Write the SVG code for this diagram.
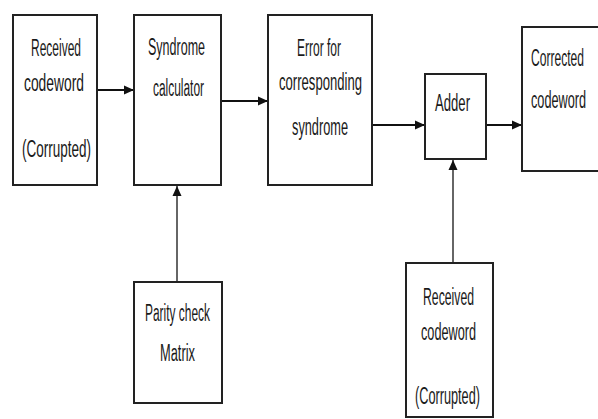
<svg xmlns="http://www.w3.org/2000/svg" width="598" height="419" viewBox="0 0 598 419">
  <defs>
    <marker id="arrow" markerUnits="userSpaceOnUse" markerWidth="10" markerHeight="10" viewBox="0 0 10 10" refX="10" refY="5" orient="auto">
      <path d="M0,0.5 L10,5 L0,9.5 Z" fill="#111"/>
    </marker>
    <style>
      .box { fill: #fff; stroke: #222; stroke-width: 2; }
      .lbl { font-family: "Liberation Sans", Arial, sans-serif; font-size: 23px; fill: #1a1a1a; }
      .wire { stroke: #111; stroke-width: 2; fill: none; }
      .vwire { stroke: #333; stroke-width: 1.5; fill: none; }
    </style>
  </defs>
  <rect width="598" height="419" fill="#fff"/>

  <!-- connectors -->
  <g id="connectors">
    <line class="wire" x1="97" y1="90" x2="134" y2="90" marker-end="url(#arrow)"/>
    <line class="wire" x1="221" y1="101" x2="268" y2="101" marker-end="url(#arrow)"/>
    <line class="wire" x1="372" y1="125" x2="425" y2="125" marker-end="url(#arrow)"/>
    <line class="wire" x1="486" y1="125" x2="522" y2="125" marker-end="url(#arrow)"/>
    <line class="vwire" x1="177" y1="282" x2="177" y2="186" marker-end="url(#arrow)"/>
    <line class="vwire" x1="453" y1="263" x2="453" y2="160" marker-end="url(#arrow)"/>
  </g>

  <g id="received-codeword">
    <rect class="box" x="13" y="15" width="84" height="170"/>
    <text class="lbl" x="31" y="56" textLength="50" lengthAdjust="spacingAndGlyphs">Received</text>
    <text class="lbl" x="24" y="91" textLength="60" lengthAdjust="spacingAndGlyphs">codeword</text>
    <text class="lbl" x="22" y="157" textLength="69" lengthAdjust="spacingAndGlyphs">(Corrupted)</text>
  </g>

  <g id="syndrome-calculator">
    <rect class="box" x="134" y="15" width="87" height="170"/>
    <text class="lbl" x="148" y="55" textLength="57" lengthAdjust="spacingAndGlyphs">Syndrome</text>
    <text class="lbl" x="153" y="96" textLength="51" lengthAdjust="spacingAndGlyphs">calculator</text>
  </g>

  <g id="error-pattern">
    <rect class="box" x="268" y="15" width="104" height="170"/>
    <text class="lbl" x="297" y="56" textLength="44" lengthAdjust="spacingAndGlyphs">Error for</text>
    <text class="lbl" x="279" y="90" textLength="83" lengthAdjust="spacingAndGlyphs">corresponding</text>
    <text class="lbl" x="292" y="135" textLength="56" lengthAdjust="spacingAndGlyphs">syndrome</text>
  </g>

  <g id="adder">
    <rect class="box" x="425" y="74" width="61" height="85"/>
    <text class="lbl" x="435" y="111" textLength="35" lengthAdjust="spacingAndGlyphs">Adder</text>
  </g>

  <g id="corrected-codeword">
    <rect class="box" x="522" y="27" width="80" height="144"/>
    <text class="lbl" x="531" y="66" textLength="53" lengthAdjust="spacingAndGlyphs">Corrected</text>
    <text class="lbl" x="531" y="108" textLength="55" lengthAdjust="spacingAndGlyphs">codeword</text>
  </g>

  <g id="parity-check-matrix">
    <rect class="box" x="134" y="282" width="88" height="121"/>
    <text class="lbl" x="145" y="321" textLength="65" lengthAdjust="spacingAndGlyphs">Parity check</text>
    <text class="lbl" x="160" y="361" textLength="35" lengthAdjust="spacingAndGlyphs">Matrix</text>
  </g>

  <g id="received-codeword-2">
    <rect class="box" x="406" y="263" width="87" height="154"/>
    <text class="lbl" x="423" y="305" textLength="51" lengthAdjust="spacingAndGlyphs">Received</text>
    <text class="lbl" x="421" y="340" textLength="55" lengthAdjust="spacingAndGlyphs">codeword</text>
    <text class="lbl" x="415" y="404" textLength="65" lengthAdjust="spacingAndGlyphs">(Corrupted)</text>
  </g>
</svg>
